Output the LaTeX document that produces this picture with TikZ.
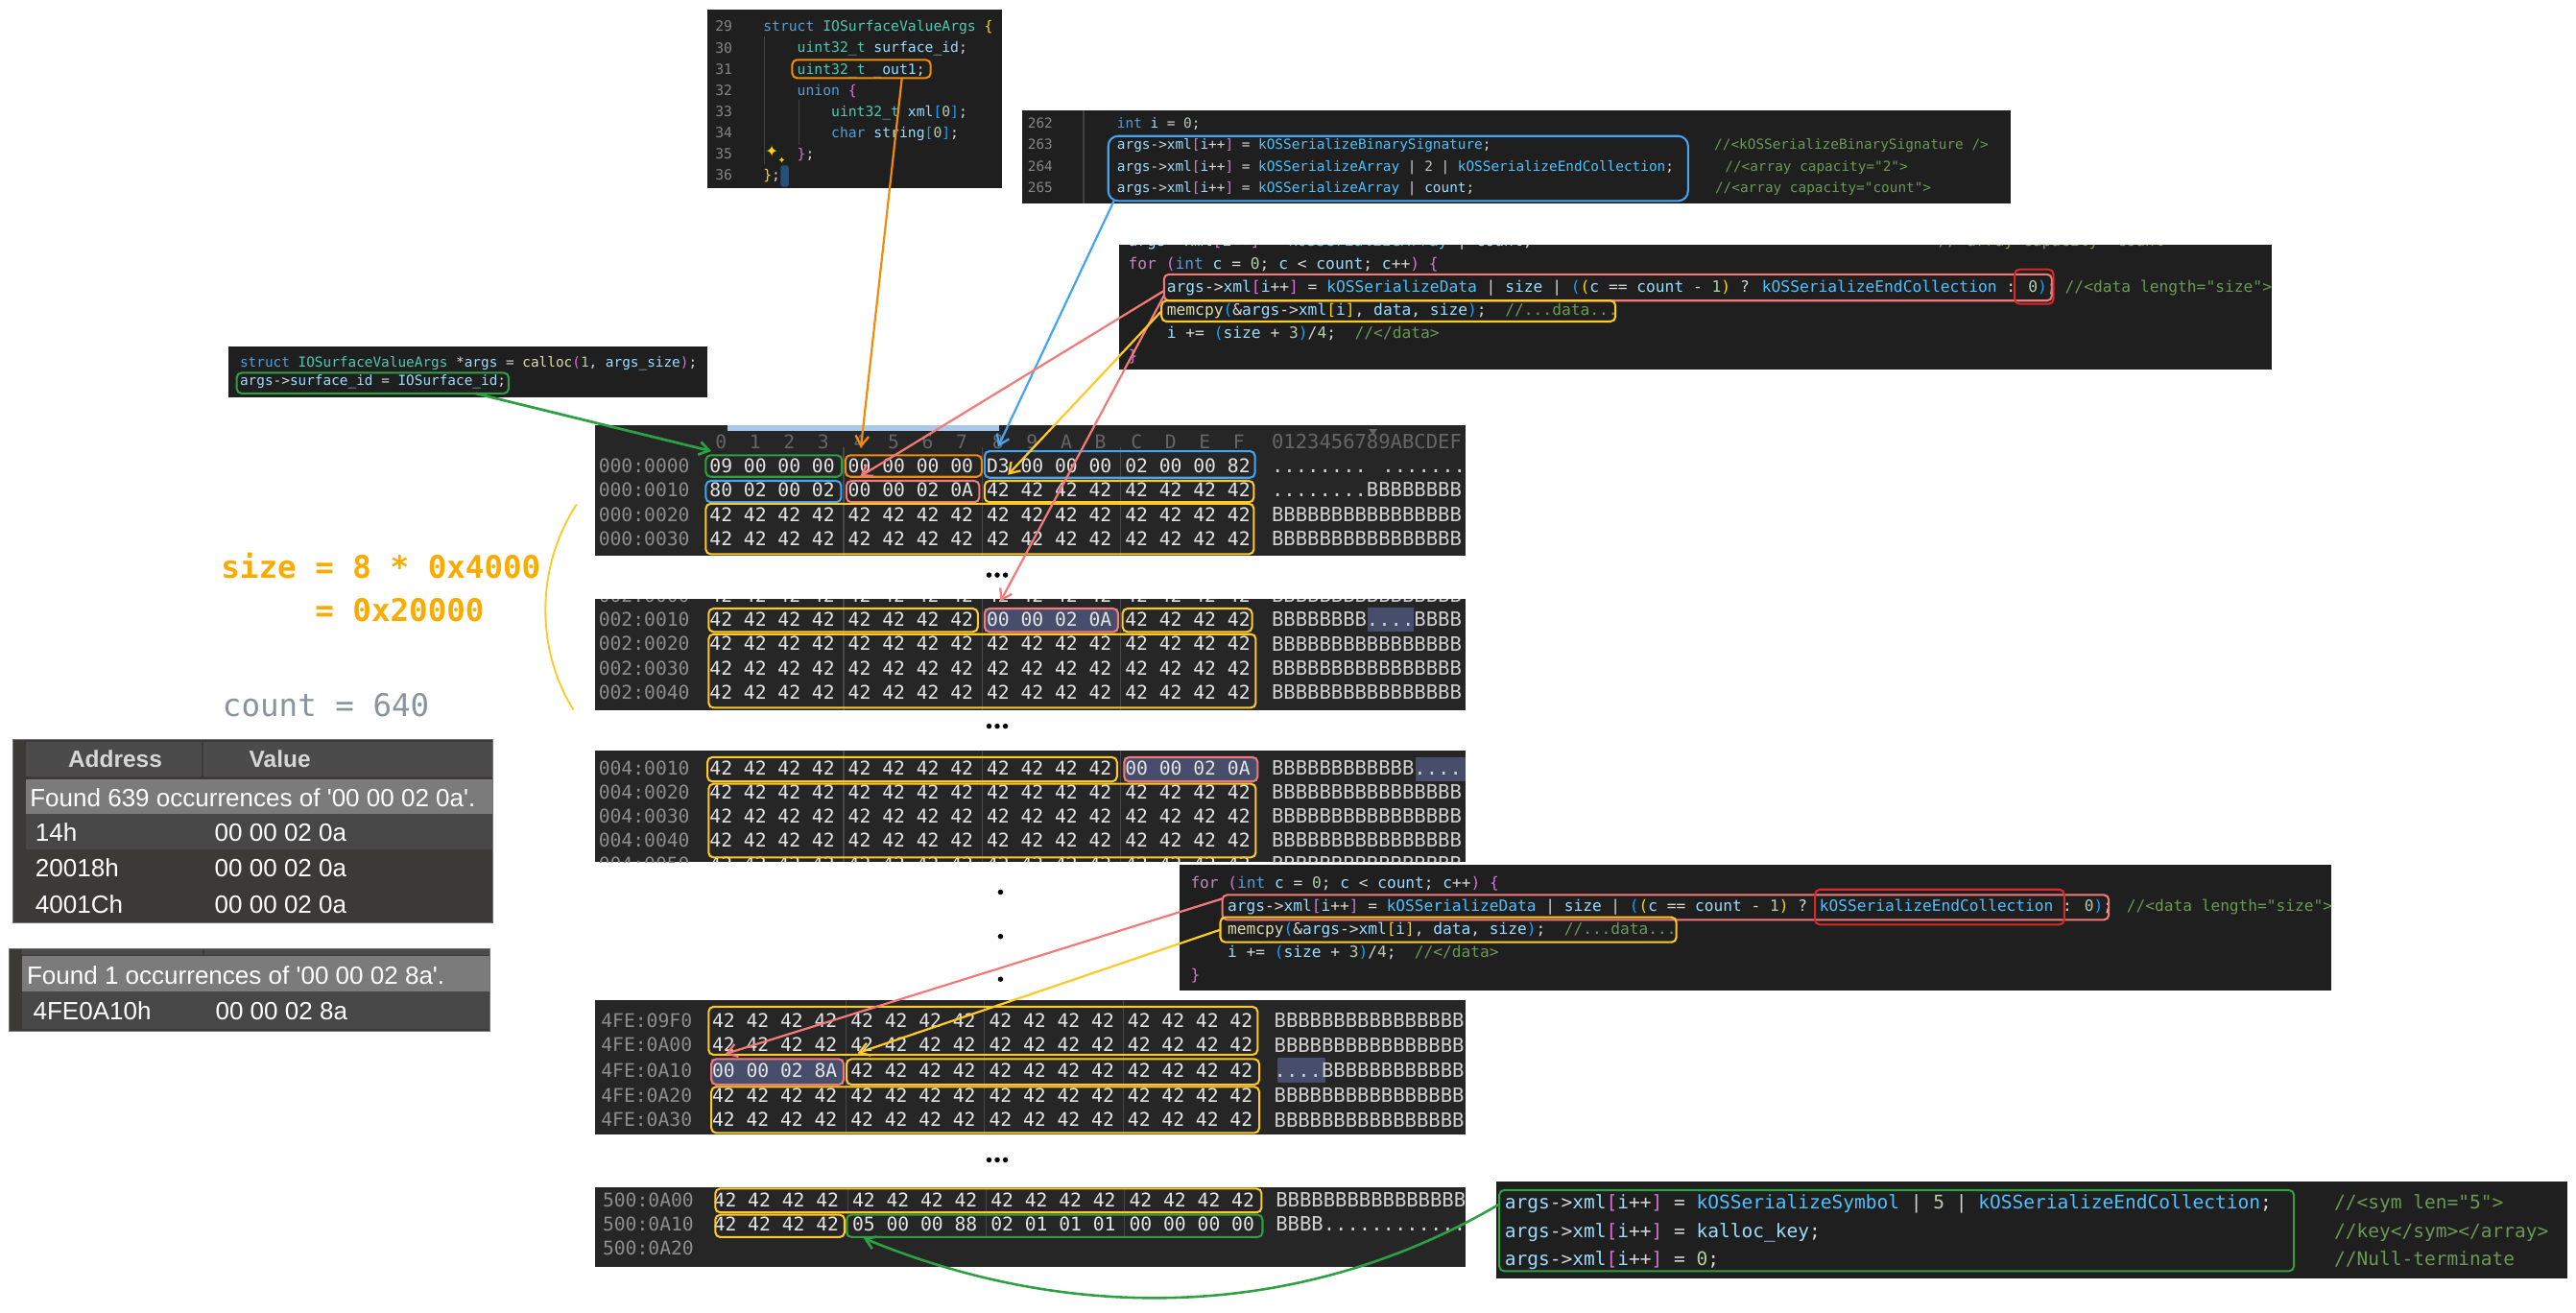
\documentclass[tikz,border=0pt]{standalone}
\usepackage{fontspec}
\usetikzlibrary{arrows.meta}
\newfontfamily\codefont{DejaVu Sans Mono}
\newfontfamily\uifont{Liberation Sans}
\newfontfamily\symfont{DejaVu Sans}
\font\tblfont="Liberation Sans" at 15.2pt

\definecolor{ckwc}{HTML}{569CD6}
\definecolor{ctyc}{HTML}{4EC9B0}
\definecolor{cvac}{HTML}{9CDCFE}
\definecolor{ccnc}{HTML}{4FC1FF}
\definecolor{cfnc}{HTML}{DCDCAA}
\definecolor{cnuc}{HTML}{B5CEA8}
\definecolor{ccmc}{HTML}{6A9955}
\definecolor{cpuc}{HTML}{D4D4D4}
\definecolor{cbyc}{HTML}{FFD700}
\definecolor{cbmc}{HTML}{DA70D6}
\definecolor{cbbc}{HTML}{179FFF}
\definecolor{cctlc}{HTML}{C586C0}
\definecolor{clnc}{HTML}{858585}
\definecolor{codebg}{HTML}{1F1F1F}
\definecolor{hexbg}{HTML}{262626}
\definecolor{hexfg}{HTML}{E4E4E4}
\definecolor{hexaddr}{HTML}{8E8E8E}
\definecolor{hexhead}{HTML}{666666}
\definecolor{hexascii}{HTML}{D0D0D0}
\definecolor{hexsep}{HTML}{484848}
\definecolor{slate}{HTML}{464E6C}
\definecolor{mgreen}{HTML}{2EA043}
\definecolor{morange}{HTML}{F08C0A}
\definecolor{mblue}{HTML}{45A5F5}
\definecolor{mpink}{HTML}{F47A7A}
\definecolor{myellow}{HTML}{FFCA28}
\definecolor{mred}{HTML}{D42A2A}
\definecolor{sizeorange}{HTML}{F9AB00}
\definecolor{countgray}{HTML}{8A949E}
\definecolor{tblouter}{HTML}{3B3A37}
\definecolor{tblhead}{HTML}{4B4B4B}
\definecolor{tblfound}{HTML}{7B7B7B}
\definecolor{tblrow}{HTML}{474747}
\definecolor{tblheadtext}{HTML}{D6D6D6}
\definecolor{cursorblue}{HTML}{24507C}
\definecolor{guidec}{HTML}{404040}
\definecolor{scrollblue}{HTML}{A9C9EA}

\newcommand\ckw[1]{\textcolor{ckwc}{#1}}
\newcommand\cty[1]{\textcolor{ctyc}{#1}}
\newcommand\cva[1]{\textcolor{cvac}{#1}}
\newcommand\ccn[1]{\textcolor{ccnc}{#1}}
\newcommand\cfn[1]{\textcolor{cfnc}{#1}}
\newcommand\cnu[1]{\textcolor{cnuc}{#1}}
\newcommand\ccm[1]{\textcolor{ccmc}{#1}}
\newcommand\cbY[1]{\textcolor{cbyc}{#1}}
\newcommand\cbM[1]{\textcolor{cbmc}{#1}}
\newcommand\cbB[1]{\textcolor{cbbc}{#1}}
\newcommand\cctl[1]{\textcolor{cctlc}{#1}}

\newcommand\rbox[6]{\node[rbx,draw=#2,minimum width={(#5)-(#3)},minimum height={(#6)-(#4)}] (#1) at ({((#3)+(#5))/2},{((#4)+(#6))/2}) {};}
\newcommand\panel[6]{\node[fill=#2,inner sep=0pt,outer sep=0pt,minimum width={(#5)-(#3)},minimum height={(#6)-(#4)}] (#1) at ({((#3)+(#5))/2},{((#4)+(#6))/2}) {};}
\def\allB{42,42,42,42,42,42,42,42,42,42,42,42,42,42,42,42}
\newcommand\hxrow[5]{%
  \node[haddr] at ({364.4+#1},#2) {#3};
  \edef\hxlist{#4}%
  \foreach \hb [count=\hj from 0] in \hxlist {%
    \pgfmathsetmacro\hx{438.9+#1+84.3*floor(\hj/4)+20.75*mod(\hj,4)}%
    \node[hbyte] at (\hx,#2) {\hb};
  }
  \node[hascii] at ({774.1+#1},#2) {#5};
}

\tikzset{
  cl/.style={anchor=base west, inner sep=0pt, outer sep=0pt, text=cpuc},
  sline/.style={cl, font=\codefont\fontsize{8.6}{10}\selectfont},
  aline/.style={cl, font=\codefont\fontsize{8.4}{10}\selectfont},
  line2/.style={cl, font=\codefont\fontsize{8.4}{10}\selectfont},
  line3/.style={cl, font=\codefont\fontsize{9.5}{11}\selectfont},
  line4/.style={cl, font=\codefont\fontsize{9.45}{11}\selectfont},
  line5/.style={cl, font=\codefont\fontsize{11.4}{13}\selectfont},
  lnum/.style={anchor=base east, inner sep=0pt, text=clnc, font=\codefont\fontsize{8.6}{10}\selectfont},
  lnumb/.style={anchor=base east, inner sep=0pt, text=clnc, font=\codefont\fontsize{8.4}{10}\selectfont},
  hexfont/.style={inner sep=0pt, outer sep=0pt, font=\codefont\fontsize{11.5}{12}\selectfont, text height=8.38pt, text depth=0pt},
  hbyte/.style={hexfont, anchor=center, text=hexfg},
  haddr/.style={hexfont, anchor=west, text=hexaddr},
  hhead/.style={hexfont, anchor=center, text=hexhead},
  hascii/.style={inner sep=0pt, outer sep=0pt, anchor=west, text=hexascii, font=\codefont\fontsize{12}{13}\selectfont, text height=8.75pt, text depth=0pt},
  rbx/.style={rectangle, rounded corners=3pt, line width=1.2pt, inner sep=0pt, outer sep=0pt},
  arr/.style={-{Straight Barb[length=6pt,width=8pt]}, line width=1.3pt},
  sepl/.style={hexsep, line width=0.6pt},
  tbltext/.style={anchor=base west, inner sep=0pt, text=white, font=\tblfont},
  tblhd/.style={anchor=base, inner sep=0pt, text=tblheadtext, font=\uifont\bfseries\fontsize{14.3}{16}\selectfont},
}

\begin{document}
\begin{tikzpicture}[x=1pt,y=-1pt]
\useasboundingbox (0,0) rectangle (1568,799);
\fill[white] (0,0) rectangle (1568,799);

% ---------------- struct panel
\panel{cpS}{codebg}{430.5}{5.7}{609.7}{114.7}
\draw[guidec, line width=0.8pt] (465.2,22) -- (465.2,100);
\draw[guidec, line width=0.8pt] (486.4,61) -- (486.4,88);
\foreach \n [count=\k from 0] in {29,30,31,32,33,34,35,36}
  \node[lnum] at (446,{19.2+12.94*\k}) {\n};
\node[sline] (s29) at (464.6,19.2) {\ckw{struct} \cty{IOSurfaceValueArgs} \cbY{\{}};
\node[sline] (s30) at (485.3,32.1) {\cty{uint32\_t} \cva{surface\_id};};
\node[sline] (s31) at (485.3,45.1) {\cty{uint32\_t} \cva{\_out1};};
\node[sline] (s32) at (485.3,58.0) {\ckw{union} \cbM{\{}};
\node[sline] (s33) at (506.0,71.0) {\cty{uint32\_t} \cva{xml}\cbB{[}\cnu{0}\cbB{]};};
\node[sline] (s34) at (506.0,83.9) {\ckw{char} \cva{string}\cbB{[}\cnu{0}\cbB{]};};
\node[sline] (s35) at (485.3,96.8) {\cbM{\}};};
\node[sline] (s36) at (464.6,109.8) {\cbY{\}};};
\node[inner sep=0pt, text=cbyc, font=\symfont\fontsize{9.5}{10}\selectfont] (spark1) at (469.8,92.2) {✦};
\node[inner sep=0pt, text=cbyc, font=\symfont\fontsize{5.5}{6}\selectfont] (spark2) at (475.8,97.6) {✦};
\node[fill=cursorblue, rounded corners=1.5pt, minimum width=5pt, minimum height=13pt, inner sep=0pt] (cursor) at (477.6,107.2) {};
\rbox{obox}{morange}{482.2}{36.4}{566.5}{47.5}

% ---------------- calloc panel
\panel{cpA}{codebg}{138.9}{210.9}{430.4}{242}
\node[aline] (a1) at (146.1,223.4) {\ckw{struct} \cty{IOSurfaceValueArgs} *\cva{args} = \cfn{calloc}\cbM{(}\cnu{1}, \cva{args\_size}\cbM{)};};
\node[aline] (a2) at (146.1,234.5) {\cva{args}->\cva{surface\_id} = \cva{IOSurface\_id};};
\rbox{sgbox}{mgreen}{144.1}{226.9}{309.6}{239.5}

% ---------------- serialization header panel
\panel{cp2}{codebg}{622}{67}{1224}{124}
\draw[guidec, line width=0.8pt] (659.6,67) -- (659.6,124);
\foreach \n [count=\k from 0] in {262,263,264,265}
  \node[lnumb] at (641,{77.8+13.15*\k}) {\n};
\node[line2] (b0) at (680,77.8) {\ckw{int} \cva{i} = \cnu{0};};
\node[line2] (b1) at (680,90.95) {\cva{args}->\cva{xml}\cbM{[}\cva{i}++\cbM{]} = \ccn{kOSSerializeBinarySignature};};
\node[line2] (b2) at (680,104.1) {\cva{args}->\cva{xml}\cbM{[}\cva{i}++\cbM{]} = \ccn{kOSSerializeArray} | \cnu{2} | \ccn{kOSSerializeEndCollection};};
\node[line2] (b3) at (680,117.25) {\cva{args}->\cva{xml}\cbM{[}\cva{i}++\cbM{]} = \ccn{kOSSerializeArray} | \cva{count};};
\node[line2] (bc1) at (1043.5,90.95) {\ccm{//<kOSSerializeBinarySignature />}};
\node[line2] (bc2) at (1050,104.1) {\ccm{//<array capacity="2">}};
\node[line2] (bc3) at (1044,117.25) {\ccm{//<array capacity="count">}};
\node[rbx, draw=mblue, rounded corners=6pt, minimum width=352.9pt, minimum height=39.5pt] (bbox) at (851.05,102.55) {};

% ---------------- for loop panel (top)
\panel{cp3}{codebg}{681}{149}{1383}{225}
\begin{scope}
\clip (681,149) rectangle (1383,225);
\node[line3] at (686.8,149.7) {\cva{args}->\cva{xml}\cbM{[}\cva{i}++\cbM{]} = \ccn{kOSSerializeArray} | \cva{count};};
\node[line3] at (1180,149.7) {\ccm{//<array capacity="count">}};
\end{scope}
\node[line3] (f0) at (686.8,163.8) {\cctl{for} \cbM{(}\ckw{int} \cva{c} = \cnu{0}; \cva{c} < \cva{count}; \cva{c}++\cbM{)} \cbM{\{}};
\node[line3] (f1) at (710.3,177.9) {\cva{args}->\cva{xml}\cbM{[}\cva{i}++\cbM{]} = \ccn{kOSSerializeData} | \cva{size} | \cbB{(}\cbY{(}\cva{c} == \cva{count} - \cnu{1}\cbY{)} ? \ccn{kOSSerializeEndCollection} : \cnu{0}\cbB{)};};
\node[line3] (f1c) at (1257,177.9) {\ccm{//<data length="size">}};
\node[line3] (f2) at (710.3,192.0) {\cfn{memcpy}\cbB{(}\&\cva{args}->\cva{xml}\cbY{[}\cva{i}\cbY{]}, \cva{data}, \cva{size}\cbB{)};\ \ \ccm{//...data...}};
\node[line3] (f3) at (710.3,206.1) {\cva{i} += \cbB{(}\cva{size} + \cnu{3}\cbB{)}/\cnu{4};\ \ \ccm{//</data>}};
\node[line3] (f4) at (686.8,220.2) {\cbM{\}}};
\rbox{p3}{mpink}{708.5}{167}{1249}{183}
\rbox{r3}{mred}{1226.3}{164}{1250}{185}
\rbox{y3}{myellow}{707}{183}{983.3}{195.7}

% ---------------- for loop panel (bottom)
\panel{cp4}{codebg}{718}{526.4}{1419}{602.7}
\node[line4] (g0) at (724.7,540.6) {\cctl{for} \cbM{(}\ckw{int} \cva{c} = \cnu{0}; \cva{c} < \cva{count}; \cva{c}++\cbM{)} \cbM{\{}};
\node[line4] (g1) at (747.3,554.7) {\cva{args}->\cva{xml}\cbM{[}\cva{i}++\cbM{]} = \ccn{kOSSerializeData} | \cva{size} | \cbB{(}\cbY{(}\cva{c} == \cva{count} - \cnu{1}\cbY{)} ? \ccn{kOSSerializeEndCollection} : \cnu{0}\cbB{)};};
\node[line4] (g1c) at (1294.5,554.7) {\ccm{//<data length="size">}};
\node[line4] (g2) at (747.3,568.8) {\cfn{memcpy}\cbB{(}\&\cva{args}->\cva{xml}\cbY{[}\cva{i}\cbY{]}, \cva{data}, \cva{size}\cbB{)};\ \ \ccm{//...data...}};
\node[line4] (g3) at (747.3,582.9) {\cva{i} += \cbB{(}\cva{size} + \cnu{3}\cbB{)}/\cnu{4};\ \ \ccm{//</data>}};
\node[line4] (g4) at (724.7,597.0) {\cbM{\}}};
\rbox{p4}{mpink}{744}{544.7}{1283.6}{559.9}
\rbox{r4}{mred}{1104.8}{541.4}{1256.5}{562.8}
\rbox{y4}{myellow}{742.8}{558.3}{1020.4}{573.5}

% ---------------- symbol panel
\panel{cp5}{codebg}{910.6}{719.2}{1562.5}{778.4}
\node[line5] (k1) at (916,736.0) {\cva{args}->\cva{xml}\cbM{[}\cva{i}++\cbM{]} = \ccn{kOSSerializeSymbol} | \cnu{5} | \ccn{kOSSerializeEndCollection};};
\node[line5] (k2) at (916,753.5) {\cva{args}->\cva{xml}\cbM{[}\cva{i}++\cbM{]} = \cva{kalloc\_key};};
\node[line5] (k3) at (916,770.5) {\cva{args}->\cva{xml}\cbM{[}\cva{i}++\cbM{]} = \cnu{0};};
\node[line5] (k1c) at (1420.9,736.0) {\ccm{//<sym len="5">}};
\node[line5] (k2c) at (1420.9,753.5) {\ccm{//key</sym></array>}};
\node[line5] (k3c) at (1420.9,770.5) {\ccm{//Null-terminate}};
\rbox{g5}{mgreen}{912.6}{724.4}{1396.3}{773.7}

% ---------------- hex panel 1
\panel{hp1}{hexbg}{362}{259}{892}{338}
\begin{scope}
\clip (362,259) rectangle (892,338);
\fill[scrollblue] (443,259) rectangle (608,262.2);
\fill[hexhead] (833.3,261.2) -- (838.3,261.2) -- (835.8,264.8) -- cycle;
\foreach \sx in {513.5,597.8,682.1} \draw[sepl] (\sx,272) -- (\sx,338);
\foreach \hh [count=\hj from 0] in {0,1,2,3,4,5,6,7,8,9,A,B,C,D,E,F} {
  \pgfmathsetmacro\hx{438.9+84.3*floor(\hj/4)+20.75*mod(\hj,4)}
  \node[hhead] at (\hx,268.7) {\hh};
}
\node[hascii, text=hexhead] at (774.1,268.7) {0123456789ABCDEF};
\hxrow{0}{283.3}{000:0000}{09,00,00,00,00,00,00,00,D3,00,00,00,02,00,00,82}{........ .......}
\hxrow{0}{298.2}{000:0010}{80,02,00,02,00,00,02,0A,42,42,42,42,42,42,42,42}{........BBBBBBBB}
\hxrow{0}{313.1}{000:0020}{\allB}{BBBBBBBBBBBBBBBB}
\hxrow{0}{328.0}{000:0030}{\allB}{BBBBBBBBBBBBBBBB}
\end{scope}
\rbox{h1g}{mgreen}{429.6}{277.1}{512.5}{290.2}
\rbox{h1o}{morange}{514.6}{277.1}{597.6}{290.2}
\rbox{h1b}{mblue}{599.3}{274.6}{763.9}{290.8}
\rbox{h1b2}{mblue}{429.6}{292.7}{512}{305.7}
\rbox{h1p}{mpink}{515.2}{292.7}{596.1}{305.7}
\rbox{h1y}{myellow}{599.3}{292.7}{763.2}{305.7}
\rbox{h1y2}{myellow}{429.6}{306.6}{763.2}{337.3}

% dots
\foreach \d in {-5,0,5} \fill (607+\d,350) circle (1.6);

% ---------------- hex panel 2
\panel{hp2}{hexbg}{362}{364.6}{892}{432.3}
\begin{scope}
\clip (362,364.6) rectangle (892,432.3);
\foreach \sx in {513.5,597.8,682.1} \draw[sepl] (\sx,364.6) -- (\sx,432.3);
\fill[slate] (599.3,370.4) rectangle (680.6,384.6);
\fill[slate] (832.4,370) rectangle (860.6,384.6);
\hxrow{0}{362.2}{002:0000}{\allB}{BBBBBBBBBBBBBBBB}
\hxrow{0}{377}{002:0010}{42,42,42,42,42,42,42,42,00,00,02,0A,42,42,42,42}{BBBBBBBB....BBBB}
\hxrow{0}{391.8}{002:0020}{\allB}{BBBBBBBBBBBBBBBB}
\hxrow{0}{406.6}{002:0030}{\allB}{BBBBBBBBBBBBBBBB}
\hxrow{0}{421.4}{002:0040}{\allB}{BBBBBBBBBBBBBBBB}
\end{scope}
\rbox{h2y}{myellow}{431.3}{370.4}{595.2}{384.6}
\rbox{h2p}{mpink}{599.3}{370.4}{680.6}{384.6}
\rbox{h2y2}{myellow}{683.3}{370.4}{762.1}{384.6}
\rbox{h2y3}{myellow}{431.3}{386}{764.4}{430.8}

\foreach \d in {-5,0,5} \fill (607+\d,442) circle (1.6);

% ---------------- hex panel 3
\panel{hp3}{hexbg}{362}{457}{892}{524.8}
\begin{scope}
\clip (362,457) rectangle (892,524.8);
\foreach \sx in {513.5,597.8,682.1} \draw[sepl] (\sx,457) -- (\sx,524.8);
\fill[slate] (684.3,460.9) rectangle (765.5,475.7);
\fill[slate] (861.5,461) rectangle (892,475.7);
\hxrow{0}{467.4}{004:0010}{42,42,42,42,42,42,42,42,42,42,42,42,00,00,02,0A}{BBBBBBBBBBBB....}
\hxrow{0}{482}{004:0020}{\allB}{BBBBBBBBBBBBBBBB}
\hxrow{0}{496.6}{004:0030}{\allB}{BBBBBBBBBBBBBBBB}
\hxrow{0}{511.2}{004:0040}{\allB}{BBBBBBBBBBBBBBBB}
\hxrow{0}{525.8}{004:0050}{\allB}{BBBBBBBBBBBBBBBB}
\end{scope}
\rbox{h3y}{myellow}{430.6}{460.9}{679.9}{475.7}
\rbox{h3p}{mpink}{684.3}{460.9}{765.5}{475.7}
\rbox{h3y2}{myellow}{431.3}{477.1}{764.4}{521.9}

\foreach \dy in {543,570,596} \fill (609,\dy) circle (1.6);

% ---------------- hex panel 4
\panel{hp4}{hexbg}{362}{609}{892}{690.4}
\begin{scope}
\clip (362,609) rectangle (892,690.4);
\foreach \sx in {515,599.3,683.6} \draw[sepl] (\sx,609) -- (\sx,690.4);
\fill[slate] (433,644.6) rectangle (513.5,660.2);
\fill[slate] (777.6,643.6) rectangle (806.7,658.8);
\hxrow{1.5}{621}{4FE:09F0}{\allB}{BBBBBBBBBBBBBBBB}
\hxrow{1.5}{636}{4FE:0A00}{\allB}{BBBBBBBBBBBBBBBB}
\hxrow{1.5}{651.5}{4FE:0A10}{00,00,02,8A,42,42,42,42,42,42,42,42,42,42,42,42}{....BBBBBBBBBBBB}
\hxrow{1.5}{666.5}{4FE:0A20}{\allB}{BBBBBBBBBBBBBBBB}
\hxrow{1.5}{681.5}{4FE:0A30}{\allB}{BBBBBBBBBBBBBBBB}
\end{scope}
\rbox{h4y}{myellow}{431.3}{612.8}{765.5}{642}
\rbox{h4p}{mpink}{433}{644.6}{513.5}{660.2}
\rbox{h4y2}{myellow}{515.3}{644.6}{766.5}{660.2}
\rbox{h4y3}{myellow}{433}{661.5}{766.5}{689.6}

\foreach \d in {-5,0,5} \fill (607+\d,706) circle (1.6);

% ---------------- hex panel 5
\panel{hp5}{hexbg}{362}{722.5}{892}{771.2}
\begin{scope}
\clip (362,722.5) rectangle (892,771.2);
\foreach \sx in {516,600.3,684.6} \draw[sepl] (\sx,722.5) -- (\sx,753);
\hxrow{2.5}{730.3}{500:0A00}{\allB}{BBBBBBBBBBBBBBBB}
\hxrow{2.5}{744.9}{500:0A10}{42,42,42,42,05,00,00,88,02,01,01,01,00,00,00,00}{BBBB............}
\node[haddr] at (366.9,759.5) {500:0A20};
\end{scope}
\rbox{h5y}{myellow}{435.4}{723.5}{767.9}{738}
\rbox{h5y2}{myellow}{435.4}{739.4}{514.1}{753}
\rbox{h5g}{mgreen}{515.3}{739.4}{768.5}{753}

% ---------------- left annotations
\node[anchor=base west, inner sep=0pt, text=sizeorange, font=\codefont\bfseries\fontsize{19}{22}\selectfont] (size1) at (134.4,352.2) {size = 8 * 0x4000};
\node[anchor=base west, inner sep=0pt, text=sizeorange, font=\codefont\bfseries\fontsize{19}{22}\selectfont] (size2) at (191.6,378.5) {= 0x20000};
\node[anchor=base west, inner sep=0pt, text=countgray, font=\codefont\fontsize{19}{22}\selectfont] (count) at (135.3,435.9) {count = 640};
\draw[myellow, line width=1.1pt] (351,307) .. controls (326,345) and (326,395) .. (349,432);

% ---------------- table 1
\panel{t1}{tblouter}{7.8}{450.2}{299.9}{561.8}
\fill[tblhead] (15.6,451.8) rectangle (299.9,472.8);
\draw[tblouter, line width=1.2pt] (123.3,451.8) -- (123.3,472.8);
\fill[tblfound] (15.6,474.2) rectangle (299.9,495.6);
\fill[tblrow] (15.6,495.6) rectangle (299.9,517);
\draw[black!55, line width=0.6pt] (7.8,450.2) rectangle (299.9,561.8);
\node[tblhd] (hAddr) at (70.1,466.9) {Address};
\node[tblhd] (hVal) at (170.4,466.9) {Value};
\node[tbltext] (t1f) at (18.1,490.8) {Found 639 occurrences of '00 00 02 0a'.};
\node[tbltext] (t1a1) at (21.4,511.8) {14h};
\node[tbltext] (t1v1) at (130.5,511.8) {00 00 02 0a};
\node[tbltext] (t1a2) at (21.4,533.6) {20018h};
\node[tbltext] (t1v2) at (130.5,533.6) {00 00 02 0a};
\node[tbltext] (t1a3) at (21.4,555.6) {4001Ch};
\node[tbltext] (t1v3) at (130.5,555.6) {00 00 02 0a};

% ---------------- table 2
\panel{t2}{tblouter}{5.8}{577.4}{298}{628}
\fill[tblhead] (13.6,577.4) rectangle (298,581.3);
\draw[tblouter, line width=1.2pt] (124,577.4) -- (124,581.3);
\fill[tblfound] (13.6,582) rectangle (298,603.7);
\fill[tblrow] (13.6,603.7) rectangle (298,626);
\draw[black!55, line width=0.6pt] (5.8,577.4) rectangle (298,628);
\node[tbltext] (t2f) at (16.2,599.1) {Found 1 occurrences of '00 00 02 8a'.};
\node[tbltext] (t2a1) at (20,620.5) {4FE0A10h};
\node[tbltext] (t2v1) at (131,620.5) {00 00 02 8a};

% ---------------- connectors
\draw[arr, mgreen, line width=1.6pt] ([xshift=-20pt]sgbox.south east) -- ([xshift=3.4pt,yshift=2.5pt]h1g.north west);
\draw[arr, morange] ([xshift=24.65pt]obox.south) -- ([xshift=9.4pt,yshift=4.6pt]h1o.north west);
\draw[arr, mblue] ([xshift=3.4pt]bbox.south west) -- ([xshift=8.2pt,yshift=2.6pt]h1b.north west);
\draw[arr, mpink] ([yshift=-10pt]p3.north west) -- ([xshift=8.3pt,yshift=2.7pt]h1p.north west);
\draw[arr, mpink] ([yshift=-13pt]p3.north west) -- ([xshift=9.7pt,yshift=4.4pt]h2p.north west);
\draw[arr, myellow] (y3.west) -- ([xshift=14.2pt,yshift=3.7pt]h1y.north west);
\draw[arr, mpink] ([yshift=-2.3pt]p4.north west) -- ([xshift=8.5pt,yshift=3.1pt]h4p.north west);
\draw[arr, myellow] (y4.west) -- ([xshift=6.7pt,yshift=3.6pt]h4y2.north west);
\draw[arr, mgreen, line width=1.5pt] ([yshift=-8.6pt]g5.north west) .. controls (790,805) and (650,805) .. ([xshift=10.3pt,yshift=-0.6pt]h5g.south west);
\end{tikzpicture}
\end{document}
